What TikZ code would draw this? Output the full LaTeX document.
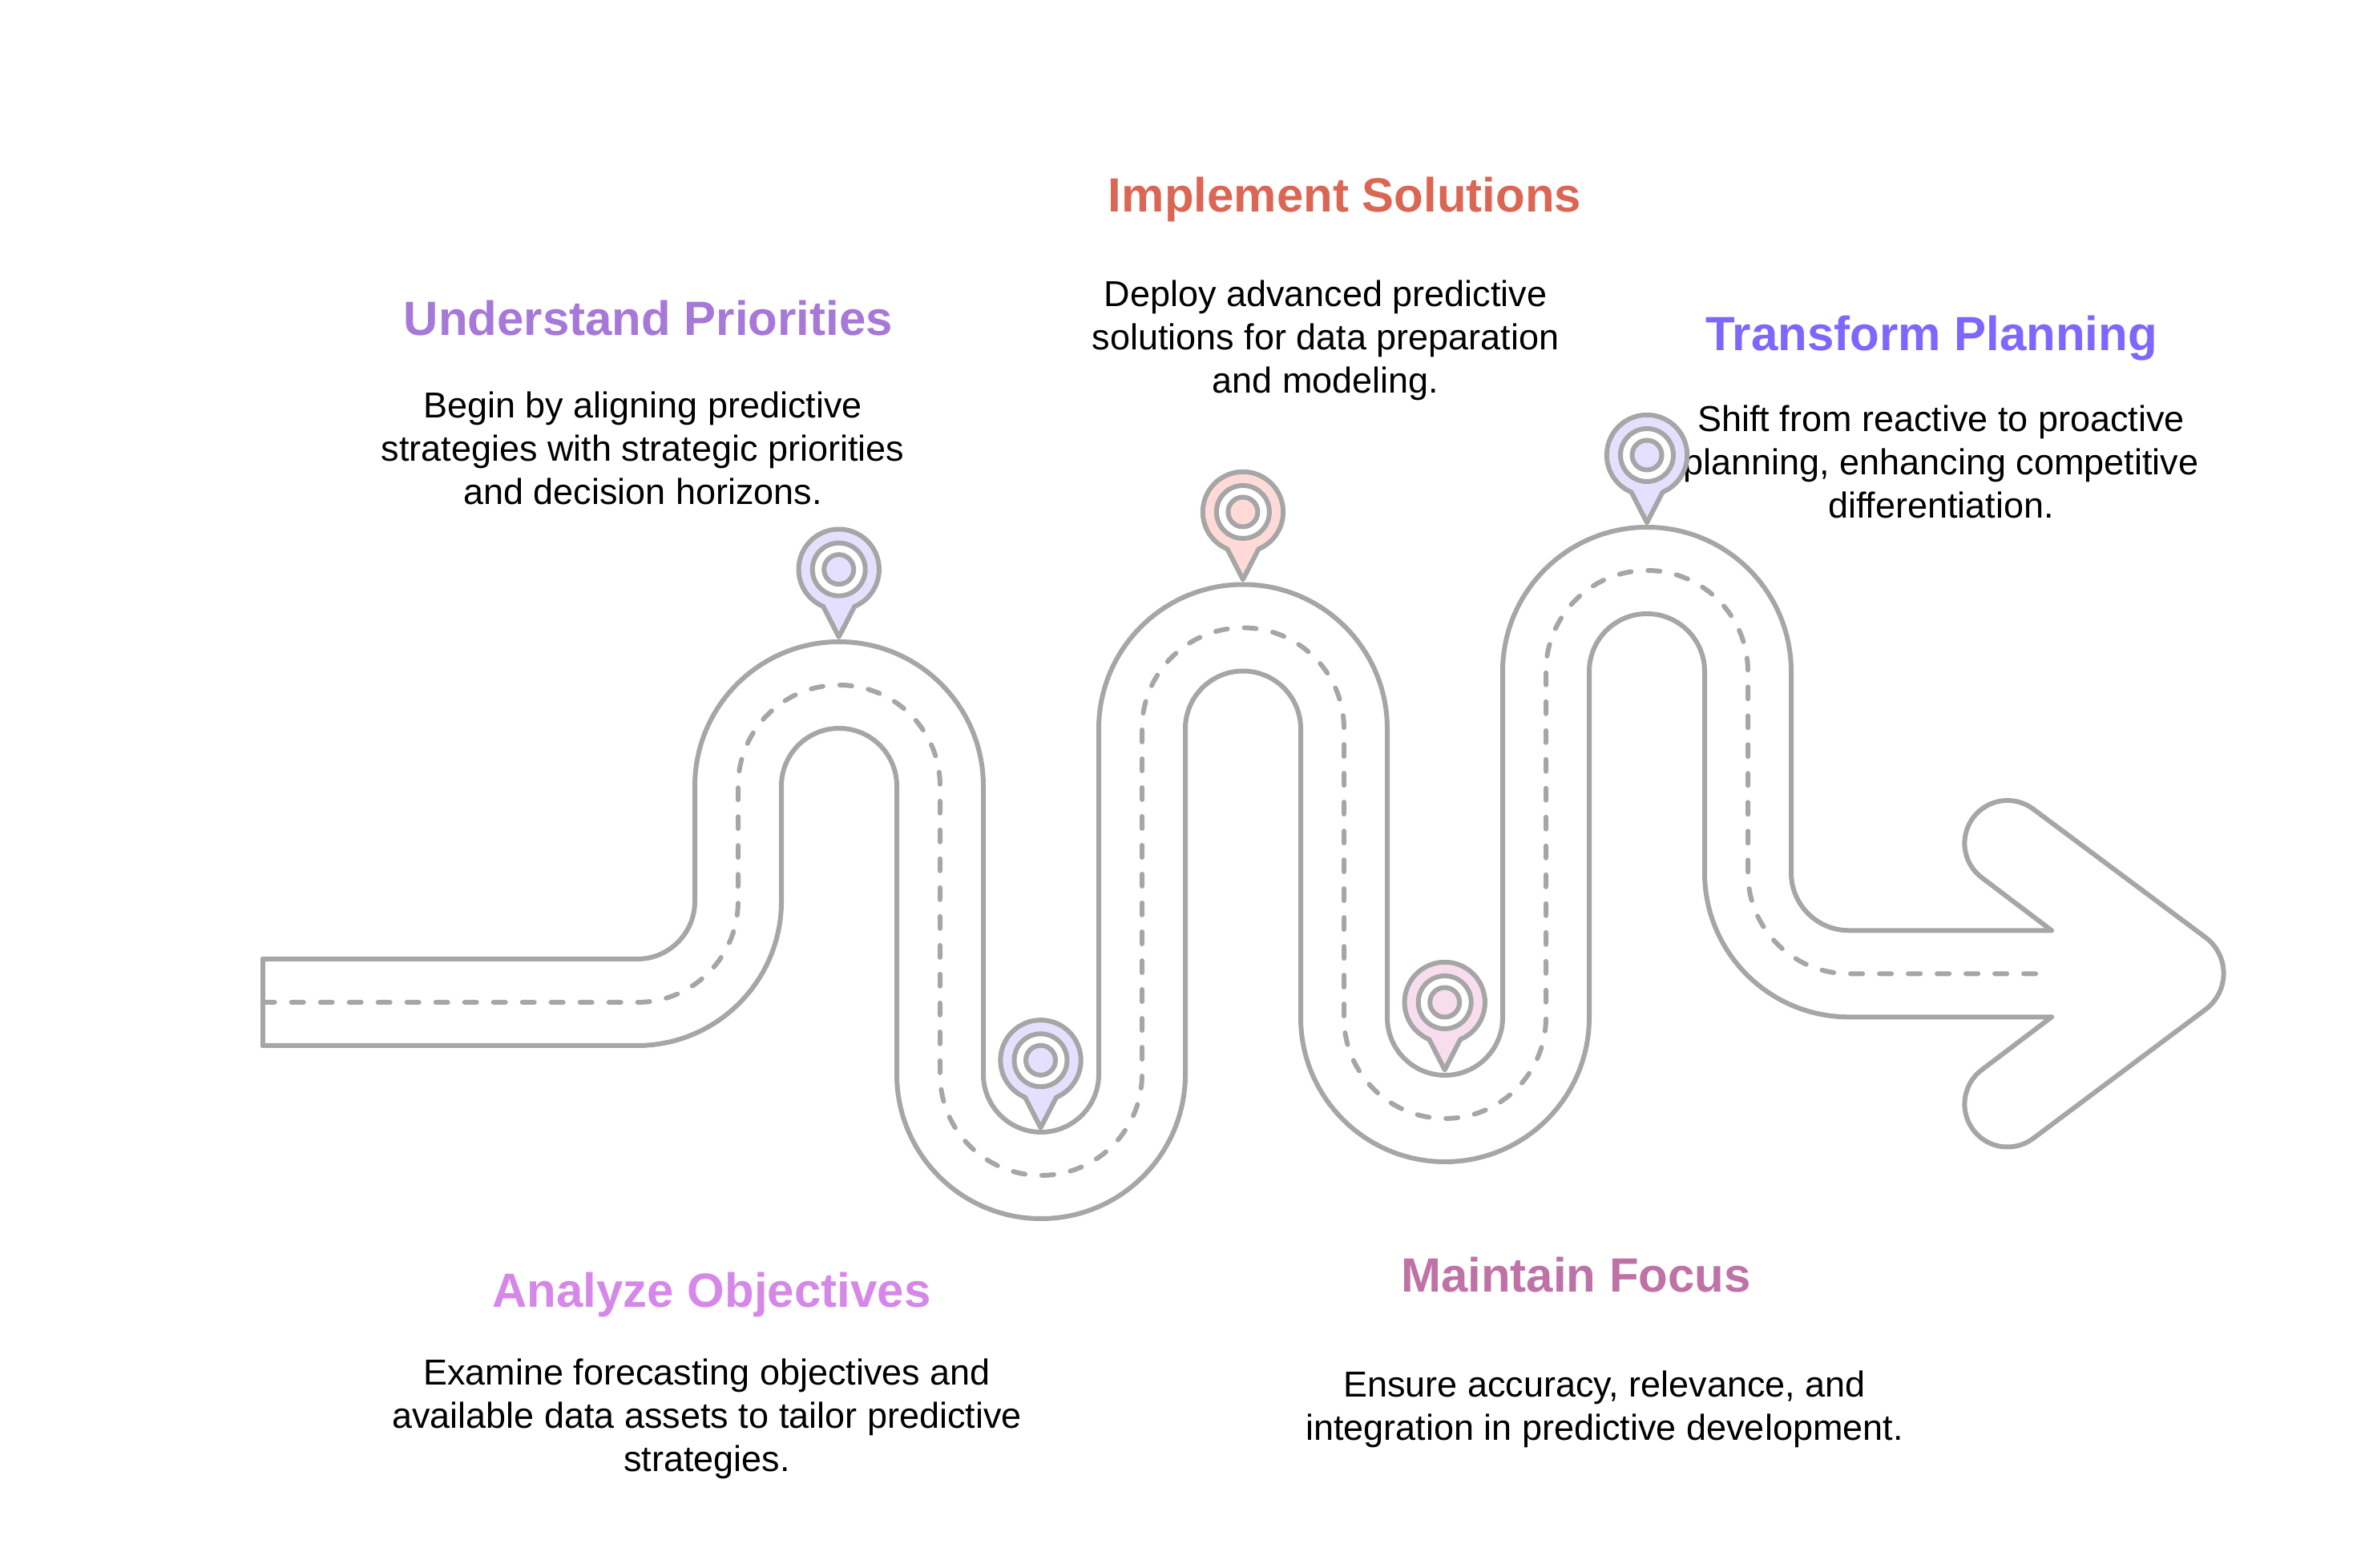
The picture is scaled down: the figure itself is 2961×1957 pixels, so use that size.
\documentclass[tikz,border=0pt]{standalone}
\usepackage{fontspec}
\setmainfont{Liberation Sans}
\definecolor{roadgrey}{HTML}{A6A6A6}
\definecolor{lav}{HTML}{E5E0FF}
\definecolor{peach}{HTML}{FFDAD6}
\definecolor{pinkish}{HTML}{F8DDEF}
\definecolor{tUnder}{HTML}{A678D8}
\definecolor{tImpl}{HTML}{DB6654}
\definecolor{tTrans}{HTML}{7F66FF}
\definecolor{tAnal}{HTML}{D688E8}
\definecolor{tMain}{HTML}{BE72A6}
\tikzset{
  x=1pt,y=1pt,
  roadline/.style={draw=roadgrey,line width=6pt,line join=round,line cap=round},
  roaddash/.style={draw=roadgrey,line width=6pt,line cap=round,dash pattern=on 15pt off 21pt},
  headtext/.style={font=\bfseries\fontsize{60}{72}\selectfont,align=center},
  bodytext/.style={font=\fontsize{45}{54}\selectfont,align=center,text=black},
}
% road path at lateral offset #1 from its centre line (positive = left of travel), ending at x = #2
\newcommand{\roadpath}[2]{
  ({327.7},{706+(#1)}) -- ++(467.3,0)
  arc[start angle=-90,end angle=0,radius={126-(#1)}] -- ++(0,144)
  arc[start angle=180,end angle=0,radius={126+(#1)}] -- ++(0,-360)
  arc[start angle=180,end angle=360,radius={126-(#1)}] -- ++(0,431.5)
  arc[start angle=180,end angle=0,radius={126+(#1)}] -- ++(0,-360.5)
  arc[start angle=180,end angle=360,radius={126-(#1)}] -- ++(0,432)
  arc[start angle=180,end angle=0,radius={126+(#1)}] -- ++(0,-251.3)
  arc[start angle=180,end angle=270,radius={126-(#1)}] -- ({#2},{741.7+(#1)})
}
\newcommand{\mappin}[3]{
  \begin{scope}[shift={(#1,#2)}]
    \draw[roadline,fill=#3] (0,-84.3) -- (19.5,-46.3)
      arc[start angle=-67.2,end angle=247.2,radius=50.2] -- cycle;
    \draw[roadline,fill=white] (0,0) circle[radius=33];
    \draw[roadline,fill=#3] (0,0) circle[radius=18.5];
  \end{scope}
}
\begin{document}
\begin{tikzpicture}
\useasboundingbox (0,0) rectangle (2961,1957);
% texts
\node[headtext,text=tUnder] (t1) at (809,1560) {Understand Priorities};
\node[bodytext] (b1) at (802,1398) {Begin by aligning predictive\\strategies with strategic priorities\\and decision horizons.};
\node[headtext,text=tImpl] (t2) at (1678,1708) {Implement Solutions};
\node[bodytext] (b2) at (1654,1532) {Deploy advanced predictive\\solutions for data preparation\\and modeling.};
\node[headtext,text=tTrans] (t3) at (2410,1535) {Transform Planning};
\node[bodytext] (b3) at (2422,1381) {Shift from reactive to proactive\\planning, enhancing competitive\\differentiation.};
\node[headtext,text=tAnal] (t4) at (888,341) {Analyze Objectives};
\node[bodytext] (b4) at (882,186) {Examine forecasting objectives and\\available data assets to tailor predictive\\strategies.};
\node[headtext,text=tMain] (t5) at (1966.5,366) {Maintain Focus};
\node[bodytext] (b5) at (2002,198) {Ensure accuracy, relevance, and\\integration in predictive development.};
% road
\draw[roadline] \roadpath{54}{2560};
\draw[roadline] \roadpath{-54}{2560};
\draw[roadline] (327.7,760) -- (327.7,652);
\draw[roaddash] \roadpath{0}{2543};
% arrow head
\draw[roadline] (2560,795.7) -- (2473,861.5)
  arc[start angle=233.4,end angle=53.4,radius=53.5] -- (2752,787)
  arc[start angle=53.4,end angle=-53.4,radius=56] -- (2536.8,536)
  arc[start angle=-53.4,end angle=-233.4,radius=53.5] -- (2560,687.7);
% pins
\mappin{1046.7}{1246.3}{lav}
\mappin{1298.5}{633.7}{lav}
\mappin{1550.9}{1318}{peach}
\mappin{1802.7}{706}{pinkish}
\mappin{2055}{1389}{lav}
\end{tikzpicture}
\end{document}
